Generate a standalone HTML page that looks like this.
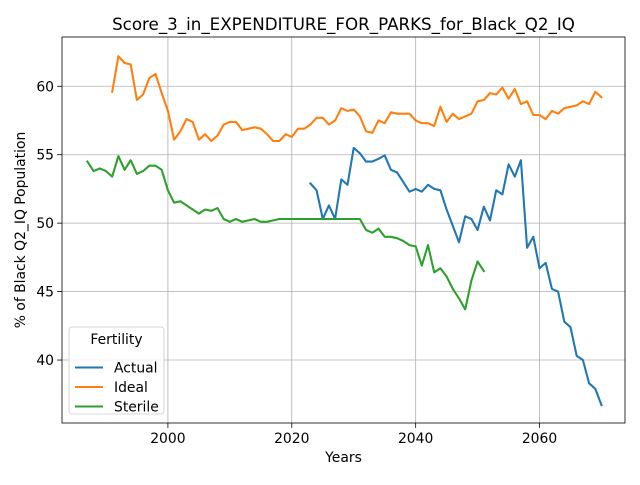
<!DOCTYPE html>
<html><head><meta charset="utf-8"><style>
body{margin:0;background:#fff;font-family:"Liberation Sans","DejaVu Sans",sans-serif}
svg text{font-family:"DejaVu Sans","Liberation Sans",sans-serif}
</style></head><body>
<svg id="c" width="640" height="480" xmlns="http://www.w3.org/2000/svg"></svg>
<script>
const xTicks=[2000,2020,2040,2060];
const yTicks=[40,45,50,55,60];
const actualStart=2023;
const actualVals=[52.9,52.4,50.3,51.3,50.3,53.2,52.8,55.5,55.1,54.5,54.5,54.7,54.95,53.9,53.7,53.0,52.3,52.5,52.3,52.8,52.5,52.4,51.0,49.8,48.6,50.5,50.3,49.5,51.2,50.2,52.4,52.1,54.3,53.4,54.6,48.2,49.0,46.7,47.1,45.2,45.0,42.8,42.4,40.3,40.0,38.3,37.9,36.7];
const idealStart=1991;
const idealVals=[59.6,62.2,61.7,61.6,59.0,59.4,60.6,60.9,59.5,58.2,56.1,56.7,57.6,57.4,56.1,56.5,56.0,56.4,57.2,57.4,57.4,56.8,56.9,57.0,56.9,56.5,56.0,56.0,56.5,56.3,56.9,56.9,57.2,57.7,57.7,57.2,57.5,58.4,58.2,58.3,57.8,56.7,56.6,57.5,57.3,58.1,58.0,58.0,58.0,57.5,57.3,57.3,57.1,58.5,57.4,58.0,57.6,57.8,58.0,58.9,59.0,59.5,59.4,59.9,59.1,59.8,58.7,58.9,57.9,57.9,57.6,58.2,58.0,58.4,58.5,58.6,58.9,58.7,59.6,59.2];
const sterileStart=1987;
const sterileVals=[54.5,53.8,54.0,53.8,53.4,54.9,53.9,54.6,53.6,53.8,54.2,54.2,53.9,52.4,51.5,51.6,51.3,51.0,50.7,51.0,50.9,51.1,50.3,50.1,50.3,50.1,50.2,50.3,50.1,50.1,50.2,50.3,50.3,50.3,50.3,50.3,50.3,50.3,50.3,50.3,50.3,50.3,50.3,50.3,50.3,49.5,49.3,49.6,49.0,49.0,48.9,48.7,48.4,48.3,46.9,48.4,46.4,46.7,46.1,45.2,44.5,43.7,45.8,47.2,46.5];
const L=62,R=625,T=37,B=423,x0=1982.9,x1=2073.8,y0=35.4,y1=63.6;
const X=v=>L+(v-x0)/(x1-x0)*(R-L);
const Y=v=>B-(v-y0)/(y1-y0)*(B-T);
const svg=document.getElementById('c');const NS='http://www.w3.org/2000/svg';
function mk(t,a,p){const e=document.createElementNS(NS,t);for(const k in a)e.setAttribute(k,a[k]);(p||svg).appendChild(e);return e;}
const title=mk('text',{x:343.5,y:30,'text-anchor':'middle','font-size':16.7,fill:'#000'});title.textContent='Score_3_in_EXPENDITURE_FOR_PARKS_for_Black_Q2_IQ';


xTicks.forEach(t=>{const x=X(t);
const g=mk('line',{x1:x,x2:x,y1:T,y2:B,stroke:'#b0b0b0','stroke-width':0.8});


mk('line',{x1:x,x2:x,y1:B,y2:B+4.9,stroke:'#000','stroke-width':0.8});
const tx=mk('text',{x:x,y:B+20,'text-anchor':'middle','font-size':13.9,fill:'#000'});tx.textContent=t;

});
yTicks.forEach(t=>{const y=Y(t);
const g=mk('line',{x1:L,x2:R,y1:y,y2:y,stroke:'#b0b0b0','stroke-width':0.8});


mk('line',{x1:L-4.9,x2:L,y1:y,y2:y,stroke:'#000','stroke-width':0.8});
const tx=mk('text',{x:L-8,y:y+5,'text-anchor':'end','font-size':13.9,fill:'#000'});tx.textContent=t;

});
function series(start,vals,color,name){const pts=vals.map((v,i)=>X(start+i).toFixed(1)+','+Y(v).toFixed(1)).join(' ');
const p=mk('polyline',{points:pts,fill:'none',stroke:color,'stroke-width':2.08,'stroke-linejoin':'round','stroke-linecap':'square'});

}
series(actualStart,actualVals,'#1f77b4','actual-line');
series(idealStart,idealVals,'#ff7f0e','ideal-line');
series(sterileStart,sterileVals,'#2ca02c','sterile-line');
const fr=mk('rect',{x:L,y:T,width:R-L,height:B-T,fill:'none',stroke:'#000','stroke-width':0.8});


const xl=mk('text',{x:343.5,y:462,'text-anchor':'middle','font-size':13.9,fill:'#000'});xl.textContent='Years';


const yl=mk('text',{x:0,y:0,'text-anchor':'middle','font-size':13.9,fill:'#000',transform:'translate(25,230) rotate(-90)'});yl.textContent='% of Black Q2_IQ Population';


const lg=mk('g',{});


mk('rect',{x:69,y:327,width:95,height:87,rx:3,fill:'#fff','fill-opacity':0.8,stroke:'#ccc','stroke-width':0.8},lg);
const lt=mk('text',{x:116.5,y:344,'text-anchor':'middle','font-size':13.9,fill:'#000'},lg);lt.textContent='Fertility';
[['Actual','#1f77b4'],['Ideal','#ff7f0e'],['Sterile','#2ca02c']].forEach((e,i)=>{const y=367.5+i*19.5;
const ln=mk('line',{x1:75,x2:103,y1:y,y2:y,stroke:e[1],'stroke-width':2.08},lg);


const t=mk('text',{x:114,y:y+5,'font-size':13.9,fill:'#000'},lg);t.textContent=e[0];});
</script>
</body></html>
